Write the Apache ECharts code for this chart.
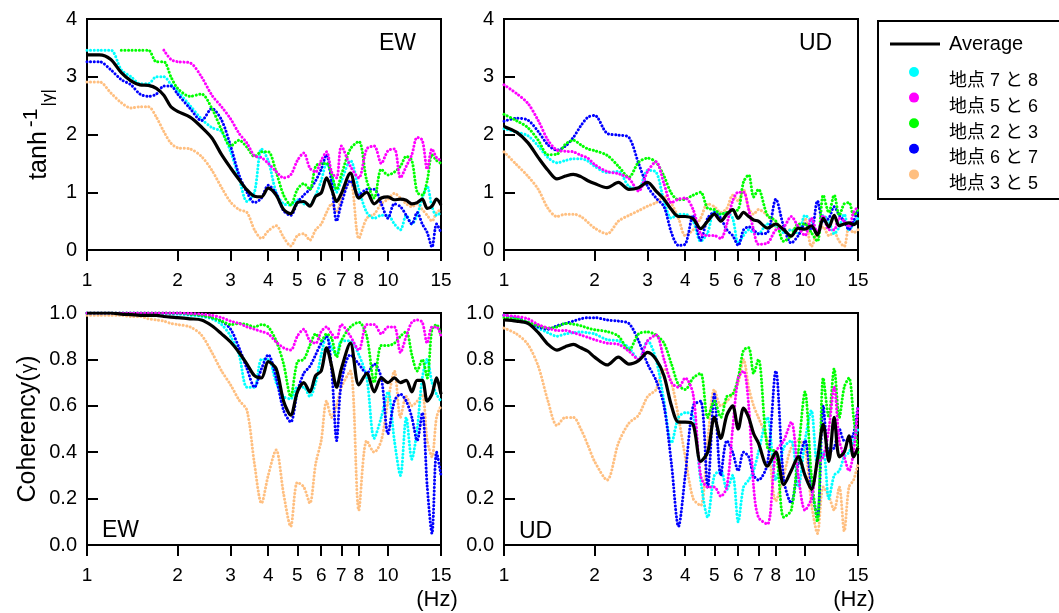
<!DOCTYPE html>
<html><head><meta charset="utf-8">
<script src="https://cdn.jsdelivr.net/npm/echarts@6/dist/echarts.min.js"></script>
<style>html,body{margin:0;padding:0;background:#fff}#c{width:1059px;height:613px}</style>
</head><body><div id="c"></div>
<script>
const freq = [1.0,1.1,1.2,1.3,1.4,1.5,1.6,1.7,1.8,1.9,
  2.0,2.2,2.4,2.6,2.8, 3.0,3.2,3.4,3.6,3.8, 4.0,4.25,4.5,4.75,
  5.0,5.25,5.5,5.75,6.0,6.25,6.5,6.75, 7.0,7.5,
  8.0,8.5,9.0,9.5,10,10.5,11,11.5,12,12.5,13,13.5,14,14.5,15];
const xTicks = [1,2,3,4,5,6,7,8,10,15];
const seriesNames = ['地点 7 と 8','地点 5 と 6','地点 2 と 3','地点 6 と 7','地点 3 と 5'];
const seriesColors = ['#00FFFF','#FF00FF','#00FF00','#0000FF','#FFBF80'];

// ---- Top-left: EW, tanh^-1|γ| ----
const ewT_avg = [3.38,3.38,3.30,3.07,2.93,2.86,2.85,2.80,2.68,2.48, 2.40,2.30,2.13,1.94,1.65, 1.42,1.22,1.04,0.93,0.92, 1.07,0.95,0.70,0.63, 0.82,0.84,0.76,0.93,0.99,1.25,1.05,0.84, 0.98,1.33, 0.90,1.00,0.80,0.90,0.92,0.87,0.88,0.86,0.80,0.82,0.88,0.72,0.76,0.88,0.78];
const ewT_78 = [3.46,3.46,3.46,3.12,3.00,2.88,2.88,3.00,3.00,2.87, 2.75,2.50,2.27,2.12,2.05, 1.70,1.25,0.84,1.00,1.75, 1.55,1.00,0.80,0.78, 0.87,0.80,0.78,0.95,1.20,1.50,1.30,1.00, 1.20,1.55, 1.05,0.65,0.55,0.60,0.60,0.45,0.35,0.60,0.45,0.60,0.90,1.10,0.75,0.60,0.65];
const ewT_56 = [null,null,null,null,null,null,null,null,3.46,3.30, 3.26,3.24,3.00,2.68,2.48, 2.27,2.02,1.85,1.63,1.60, 1.50,1.36,1.25,1.30, 1.55,1.68,1.42,1.35,1.55,1.70,1.35,1.25, 1.80,1.45, 1.25,1.75,1.80,1.50,1.72,1.75,1.25,1.45,1.65,1.95,1.90,1.40,1.75,1.60,1.55];
const ewT_23 = [null,null,null,3.46,3.46,3.46,3.46,3.26,3.26,3.00, 2.80,2.66,2.70,2.45,2.08, 1.80,1.90,1.78,1.62,1.70, 1.70,1.35,0.95,0.78, 1.05,1.15,1.05,1.45,1.50,1.50,1.30,1.05, 1.30,1.75, 1.88,1.20,0.90,1.40,1.30,1.35,1.45,1.62,1.55,1.00,0.95,1.20,1.65,1.55,1.50];
const ewT_67 = [3.26,3.26,3.12,2.95,2.86,2.70,2.66,2.70,2.84,2.84, 2.70,2.45,2.24,2.45,2.25, 1.80,1.30,1.00,0.82,0.90, 1.12,0.98,0.68,0.60, 0.82,0.95,1.05,1.20,1.40,1.65,1.15,0.50, 0.80,1.20, 0.95,1.05,1.05,0.80,0.55,0.80,0.75,0.60,0.45,0.65,0.45,0.30,0.05,0.45,0.30];
const ewT_35 = [2.91,2.91,2.72,2.55,2.46,2.48,2.48,2.30,2.05,1.85, 1.77,1.75,1.62,1.38,1.08, 0.83,0.70,0.65,0.35,0.20, 0.33,0.42,0.22,0.07, 0.25,0.28,0.17,0.35,0.45,0.65,0.80,0.65, 0.90,1.20, 0.20,0.55,0.62,0.80,0.88,0.98,0.90,0.80,0.75,0.80,0.70,0.60,0.50,0.65,0.70];

// ---- Top-right: UD, tanh^-1|γ| ----
const udT_avg = [2.14,2.04,1.86,1.60,1.38,1.23,1.28,1.31,1.27,1.20, 1.15,1.08,1.17,1.05,1.08, 1.17,1.02,0.88,0.70,0.58, 0.58,0.54,0.37,0.50, 0.62,0.50,0.62,0.70,0.55,0.65,0.58,0.52, 0.50,0.38, 0.45,0.35,0.24,0.38,0.36,0.42,0.26,0.55,0.40,0.60,0.42,0.45,0.47,0.44,0.50];
const udT_78 = [2.10,2.04,1.98,1.80,1.60,1.51,1.55,1.58,1.58,1.54, 1.45,1.34,1.36,1.10,1.07, 1.38,1.35,0.85,0.55,0.62, 0.62,0.50,0.15,0.30, 0.68,0.62,0.65,0.55,0.12,0.25,0.35,0.30, 0.28,0.45, 0.42,0.30,0.35,0.28,0.60,0.50,0.28,0.60,0.50,0.28,0.40,0.62,0.35,0.45,0.55];
const udT_56 = [2.86,2.71,2.54,2.24,1.90,1.73,1.71,1.70,1.64,1.59, 1.48,1.36,1.32,1.24,1.02, 1.36,1.53,1.15,0.82,0.88, 0.90,0.70,0.28,0.25, 0.25,0.20,0.45,0.85,1.00,1.00,0.70,0.35, 0.10,0.12, 0.35,0.40,0.58,0.40,0.25,0.55,0.30,0.60,0.35,0.35,0.55,0.50,0.40,0.65,0.75];
const udT_23 = [2.35,2.24,2.12,1.90,1.65,1.66,1.83,1.90,1.82,1.75, 1.72,1.64,1.45,1.26,1.52, 1.59,1.52,1.28,0.98,0.87, 0.88,0.95,1.00,0.72, 0.70,0.62,0.65,0.68,0.70,1.18,1.30,0.92, 1.05,0.60, 0.50,0.15,0.25,0.45,0.45,0.30,0.15,0.95,0.65,0.95,0.60,0.80,0.82,0.60,0.70];
const udT_67 = [2.23,2.28,2.25,2.05,1.82,1.73,1.80,1.95,2.15,2.30, 2.33,2.02,1.99,1.95,1.50, 1.10,0.90,0.75,0.30,0.08, 0.10,0.60,0.17,0.55, 0.65,0.55,0.35,0.25,0.08,0.35,0.40,0.35, 0.28,0.30, 0.88,0.40,0.12,0.25,0.45,0.35,0.85,0.50,0.55,0.75,0.60,0.50,0.35,0.50,0.70];
const udT_35 = [1.70,1.48,1.28,1.05,0.72,0.58,0.62,0.62,0.58,0.48, 0.38,0.28,0.50,0.60,0.68, 0.76,0.82,0.93,0.80,0.55, 0.25,0.35,0.55,0.80, 0.75,0.65,0.72,0.95,0.85,1.04,0.72,0.62, 0.70,0.60, 0.40,0.35,0.35,0.28,0.55,0.06,0.30,0.40,0.25,0.30,0.15,0.06,0.40,0.30,0.35];

// ---- Bottom-left: EW, Coherency ----
const ewC_avg = [1.0,1.0,1.0,0.995,0.993,0.99,0.99,0.99,0.985,0.982, 0.98,0.975,0.97,0.945,0.91, 0.875,0.83,0.78,0.73,0.72, 0.79,0.76,0.62,0.56, 0.66,0.70,0.66,0.73,0.75,0.85,0.77,0.68, 0.76,0.87, 0.69,0.74,0.66,0.72,0.70,0.72,0.70,0.71,0.66,0.71,0.71,0.62,0.65,0.72,0.65];
const ewC_78 = [1.0,1.0,1.0,1.0,1.0,0.999,0.998,0.997,0.996,0.995, 0.995,0.99,0.985,0.975,0.95, 0.90,0.82,0.68,0.68,0.80, 0.80,0.70,0.64,0.63, 0.68,0.68,0.64,0.70,0.82,0.90,0.85,0.82, 0.88,0.88, 0.82,0.72,0.46,0.55,0.66,0.45,0.30,0.55,0.37,0.50,0.72,0.80,0.70,0.65,0.62];
const ewC_56 = [1.0,1.0,1.0,1.0,1.0,1.0,1.0,1.0,1.0,1.0, 1.0,0.998,0.995,0.99,0.98, 0.965,0.955,0.94,0.93,0.92, 0.91,0.875,0.85,0.84, 0.90,0.93,0.88,0.87,0.92,0.94,0.91,0.89, 0.95,0.90, 0.84,0.95,0.95,0.91,0.94,0.94,0.83,0.90,0.96,0.97,0.96,0.87,0.94,0.94,0.90];
const ewC_23 = [1.0,1.0,1.0,1.0,1.0,1.0,1.0,1.0,1.0,1.0, 1.0,0.995,0.99,0.98,0.965, 0.95,0.955,0.95,0.94,0.95, 0.94,0.88,0.78,0.64, 0.79,0.80,0.86,0.91,0.88,0.91,0.89,0.81, 0.88,0.94, 0.96,0.90,0.70,0.86,0.86,0.87,0.90,0.92,0.82,0.75,0.80,0.72,0.93,0.95,0.90];
const ewC_67 = [1.0,1.0,1.0,1.0,1.0,1.0,1.0,1.0,1.0,1.0, 1.0,0.995,0.99,0.98,0.965, 0.93,0.85,0.76,0.68,0.76, 0.82,0.72,0.58,0.53, 0.66,0.74,0.77,0.82,0.87,0.90,0.75,0.45, 0.70,0.82, 0.78,0.74,0.78,0.72,0.48,0.62,0.65,0.62,0.55,0.45,0.57,0.25,0.05,0.40,0.30];
const ewC_35 = [0.99,0.99,0.99,0.99,0.985,0.985,0.975,0.97,0.965,0.955, 0.95,0.94,0.905,0.83,0.75, 0.69,0.625,0.58,0.35,0.18, 0.30,0.41,0.22,0.08, 0.27,0.25,0.18,0.35,0.45,0.62,0.55,0.60, 0.68,0.75, 0.15,0.45,0.40,0.45,0.62,0.75,0.55,0.64,0.60,0.62,0.65,0.45,0.38,0.55,0.60];

// ---- Bottom-right: UD, Coherency ----
const udC_avg = [0.97,0.965,0.955,0.915,0.865,0.84,0.855,0.865,0.85,0.835, 0.81,0.776,0.81,0.78,0.795, 0.83,0.80,0.73,0.60,0.53, 0.53,0.52,0.36,0.40, 0.55,0.46,0.56,0.60,0.50,0.59,0.55,0.48, 0.44,0.34, 0.40,0.26,0.32,0.38,0.30,0.24,0.37,0.52,0.36,0.55,0.38,0.40,0.47,0.38,0.42];
const udC_78 = [0.99,0.975,0.955,0.935,0.915,0.90,0.91,0.915,0.918,0.915, 0.91,0.885,0.88,0.85,0.80, 0.88,0.80,0.62,0.44,0.55, 0.57,0.56,0.28,0.12, 0.30,0.32,0.24,0.30,0.10,0.25,0.28,0.32, 0.40,0.55, 0.28,0.42,0.45,0.25,0.45,0.58,0.35,0.40,0.20,0.30,0.32,0.38,0.40,0.45,0.50];
const udC_56 = [0.99,0.985,0.975,0.95,0.935,0.925,0.925,0.915,0.905,0.895, 0.885,0.87,0.865,0.835,0.80, 0.88,0.905,0.80,0.70,0.68, 0.72,0.65,0.30,0.25, 0.25,0.21,0.25,0.50,0.72,0.75,0.60,0.25, 0.12,0.09, 0.40,0.45,0.53,0.30,0.15,0.20,0.35,0.38,0.50,0.68,0.45,0.38,0.32,0.40,0.60];
const udC_23 = [0.98,0.975,0.96,0.945,0.935,0.94,0.955,0.952,0.945,0.935, 0.928,0.92,0.90,0.84,0.91, 0.918,0.905,0.87,0.78,0.69, 0.67,0.72,0.74,0.55, 0.62,0.55,0.64,0.65,0.72,0.84,0.85,0.74, 0.80,0.42, 0.40,0.12,0.15,0.40,0.66,0.30,0.10,0.72,0.55,0.76,0.55,0.68,0.72,0.55,0.40];
const udC_67 = [0.99,0.98,0.96,0.94,0.93,0.945,0.955,0.965,0.975,0.98, 0.98,0.97,0.965,0.955,0.88, 0.78,0.71,0.60,0.35,0.08, 0.30,0.60,0.62,0.25, 0.65,0.30,0.45,0.40,0.32,0.40,0.38,0.30, 0.28,0.35, 0.75,0.28,0.18,0.35,0.45,0.25,0.12,0.60,0.40,0.42,0.50,0.45,0.45,0.48,0.60];
const udC_35 = [0.935,0.91,0.865,0.77,0.62,0.515,0.55,0.55,0.50,0.43, 0.36,0.28,0.44,0.525,0.56, 0.64,0.67,0.76,0.70,0.55, 0.38,0.20,0.17,0.45, 0.67,0.60,0.62,0.65,0.70,0.80,0.68,0.60, 0.55,0.45, 0.19,0.30,0.42,0.45,0.42,0.18,0.05,0.25,0.21,0.15,0.25,0.06,0.25,0.28,0.35];

const FONT = "'Liberation Sans', Arial, 'Noto Sans CJK JP', sans-serif";
const lg = v => Math.log10(v);

const panels = [
  { avg: ewT_avg, s: [ewT_78, ewT_56, ewT_23, ewT_67, ewT_35] },
  { avg: udT_avg, s: [udT_78, udT_56, udT_23, udT_67, udT_35] },
  { avg: ewC_avg, s: [ewC_78, ewC_56, ewC_23, ewC_67, ewC_35] },
  { avg: udC_avg, s: [udC_78, udC_56, udC_23, udC_67, udC_35] }
];
panels.forEach((p, k) => [p.avg].concat(p.s).forEach((a, j) => {
  if (a.length !== freq.length) throw new Error('panel ' + k + ' array ' + j + ' length ' + a.length);
}));

const pts = vals => freq.map((f, i) => [lg(f), vals[i]]);

const grids = [
  { left: 87, top: 19, width: 354, height: 231 },
  { left: 504, top: 19, width: 354, height: 231 },
  { left: 87, top: 313, width: 354, height: 232 },
  { left: 504, top: 313, width: 354, height: 232 }
].map(g => Object.assign(g, { show: true, borderColor: '#000', borderWidth: 2, backgroundColor: 'transparent' }));

const xAxes = grids.map((g, i) => ({
  type: 'value', gridIndex: i, min: 0, max: lg(15),
  axisLine: { show: true, lineStyle: { color: '#000', width: 2 } },
  axisTick: { show: true, inside: false, length: 11, lineStyle: { color: '#000', width: 2 }, customValues: xTicks.map(lg) },
  axisLabel: { show: true, margin: 21, fontSize: 19, color: '#000', fontFamily: FONT,
    customValues: xTicks.map(lg), formatter: v => String(Math.round(Math.pow(10, v))) },
  splitLine: { show: false }
}));

const yAxes = grids.map((g, i) => {
  const top = i < 2;
  const ax = {
    type: 'value', gridIndex: i, min: 0, max: top ? 4 : 1, interval: top ? 1 : 0.2,
    axisLine: { show: true, lineStyle: { color: '#000', width: 2 } },
    axisTick: { show: true, inside: true, length: 11, lineStyle: { color: '#000', width: 2 } },
    axisLabel: { margin: 10, fontSize: 20, color: '#000', fontFamily: FONT,
      formatter: v => top ? String(v) : v.toFixed(1) },
    splitLine: { show: false }
  };
  if (i === 0) {
    ax.name = '{a|tanh}{b|-1}{c||γ|}';
    ax.nameLocation = 'middle'; ax.nameRotate = 90; ax.nameGap = 30;
    ax.nameTextStyle = { color: '#000', fontFamily: FONT, rich: {
      a: { fontSize: 25, lineHeight: 36, fontFamily: FONT, color: '#000' },
      b: { fontSize: 21, lineHeight: 14, verticalAlign: 'top', padding: [0, 2, 0, 4], fontFamily: FONT, color: '#000' },
      c: { fontSize: 17, lineHeight: 22, verticalAlign: 'bottom', fontFamily: FONT, color: '#000' }
    } };
  }
  if (i === 2) {
    ax.name = '{a|Coherency(}{b|γ}{a|)}';
    ax.nameLocation = 'middle'; ax.nameRotate = 90; ax.nameGap = 44;
    ax.nameTextStyle = { color: '#000', fontFamily: FONT, rich: {
      a: { fontSize: 25, lineHeight: 30, fontFamily: FONT, color: '#000' },
      b: { fontSize: 19, lineHeight: 30, fontFamily: FONT, color: '#000' }
    } };
  }
  return ax;
});

const drawOrder = [4, 0, 3, 2, 1];
const series = [];
panels.forEach((p, gi) => {
  drawOrder.forEach(k => {
    series.push({
      type: 'line', name: seriesNames[k], xAxisIndex: gi, yAxisIndex: gi,
      data: pts(p.s[k]), symbol: 'none', showSymbol: false, smooth: 0.3, connectNulls: false,
      color: seriesColors[k],
      lineStyle: { color: seriesColors[k], width: 3, type: [0.1, 3.5], cap: 'round' },
      itemStyle: { color: seriesColors[k] },
      emphasis: { disabled: true }, silent: true, z: 2
    });
  });
  series.push({
    type: 'line', name: 'Average', xAxisIndex: gi, yAxisIndex: gi,
    data: pts(p.avg), symbol: 'none', showSymbol: false, smooth: 0.3,
    color: '#000', lineStyle: { color: '#000', width: 3.2 }, itemStyle: { color: '#000' },
    emphasis: { disabled: true }, silent: true, z: 3
  });
});

const txt = (x, y, s, size, align) => ({ type: 'text', x, y, silent: true,
  style: { text: s, fontSize: size, fontFamily: FONT, fill: '#000', align: align || 'left', verticalAlign: 'middle' } });

const option = {
  animation: false,
  backgroundColor: '#fff',
  grid: grids, xAxis: xAxes, yAxis: yAxes, series,
  legend: [
    { data: ['Average'], orient: 'vertical', left: 890, top: 34, padding: 0,
      itemWidth: 50, itemHeight: 3, icon: 'rect', selectedMode: false,
      textStyle: { fontSize: 20, color: '#000', fontFamily: FONT, padding: [0, 0, 0, 4] } },
    { data: seriesNames, orient: 'vertical', left: 909, top: 67, padding: 0,
      itemWidth: 10, itemHeight: 10, itemGap: 2.1, icon: 'circle', selectedMode: false,
      formatter: n => '{s| }{t|' + n + '}',
      textStyle: { color: '#000', fontFamily: FONT, rich: {
        s: { fontSize: 1, lineHeight: 37, width: 25 },
        t: { fontSize: 18, lineHeight: 18, verticalAlign: 'bottom', color: '#000', fontFamily: FONT }
      } } }
  ],
  graphic: [
    { type: 'rect', silent: true, shape: { x: 878, y: 21, width: 200, height: 178 },
      style: { fill: 'none', stroke: '#000', lineWidth: 2 } },
    txt(379, 44, 'EW', 23), txt(799, 44, 'UD', 23),
    txt(102, 531, 'EW', 23), txt(519, 532, 'UD', 23),
    txt(437, 600, '(Hz)', 22, 'center'), txt(854, 600, '(Hz)', 22, 'center')
  ]
};

const chart = echarts.init(document.getElementById('c'), null, { renderer: 'canvas' });
chart.setOption(option);
</script>
</body></html>
